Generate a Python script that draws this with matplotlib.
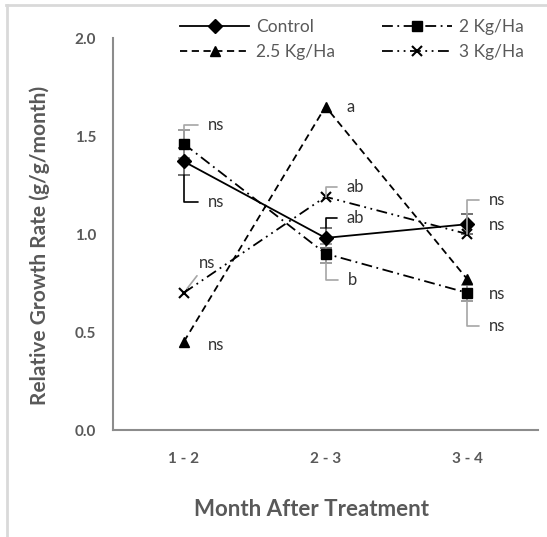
import matplotlib.pyplot as plt
from matplotlib.lines import Line2D

plt.rcParams['font.family'] = ['Lato', 'DejaVu Sans']

# Relative growth rate per treatment and month interval
months = ['1 - 2', '2 - 3', '3 - 4']
control = [1.37, 0.98, 1.05]
kg2 = [1.46, 0.90, 0.70]
kg25 = [0.45, 1.65, 0.77]
kg3 = [0.70, 1.19, 1.00]
control_err = [0.07, 0.05, 0.05]
kg2_err = [0.07, 0.05, 0.04]

control_lbl = ['ns', 'ab', 'ns']
kg2_lbl = ['ns', 'b', 'ns']
kg25_lbl = ['ns', 'a', 'ns']
kg3_lbl = ['ns', 'ab', 'ns']

txt_col = '#595959'
lbl_col = '#333333'
ax_col = '#8c8c8c'

fig = plt.figure(figsize=(5.47, 5.37), dpi=100)
ax = fig.add_axes([113 / 547, 1 - 430 / 537, 425 / 547, 392 / 537])
ax.patch.set_alpha(0)

x = [0.5, 1.5, 2.5]

# error bars
ax.errorbar(x, control, yerr=control_err, fmt='none', ecolor='#595959',
            elinewidth=1.2, capsize=4, capthick=1.2, zorder=2)
ax.errorbar(x, kg2, yerr=kg2_err, fmt='none', ecolor='#8c8c8c',
            elinewidth=1.2, capsize=4, capthick=1.2, zorder=2)

styles = {
    'Control': dict(ls='-', marker='D', ms=7.5),
    '2 Kg/Ha': dict(ls=(0, (6, 2.5, 1, 2.5)), marker='s', ms=7.5),
    '2.5 Kg/Ha': dict(ls=(0, (4, 2.5)), marker='^', ms=7.5),
    '3 Kg/Ha': dict(ls=(0, (6, 2.5, 1, 2.5, 1, 2.5)), marker='x', ms=7.5, mew=1.5),
}
series = {'Control': control, '2 Kg/Ha': kg2, '2.5 Kg/Ha': kg25, '3 Kg/Ha': kg3}
for name, vals in series.items():
    ax.plot(x, vals, color='black', lw=1.3, mfc='black', mec='black',
            zorder=3, **styles[name])


def label(i, anchor, text, off, leader=None, lcol='#a6a6a6'):
    props = None
    if leader == 'L':
        props = dict(arrowstyle='-', color=lcol, lw=1.2, shrinkA=5, shrinkB=0,
                     connectionstyle='angle,angleA=0,angleB=90,rad=0')
    elif leader == 'line':
        props = dict(arrowstyle='-', color=lcol, lw=1.2, shrinkA=2, shrinkB=4)
    ax.annotate(text, xy=(x[i], anchor), xytext=off, textcoords='offset pixels',
                ha='left', va='center', fontsize=12, color=lbl_col,
                arrowprops=props, zorder=4)


# 1 - 2
label(0, control[0] - control_err[0], control_lbl[0], (24, -27), 'L', 'black')
label(0, kg2[0] + kg2_err[0], kg2_lbl[0], (24, 5), 'L')
label(0, kg25[0], kg25_lbl[0], (24, -3))
label(0, kg3[0], kg3_lbl[0], (15, 30), 'line')
# 2 - 3
label(1, kg25[1], kg25_lbl[1], (21, 0))
label(1, kg3[1], kg3_lbl[1], (21, 10), 'L')
label(1, control[1] + control_err[1], control_lbl[1], (21, 10), 'L', 'black')
label(1, kg2[1] - kg2_err[1], kg2_lbl[1], (22, -17), 'L')
# 3 - 4
label(2, kg3[2], kg3_lbl[2], (22, 34), 'L')
label(2, control[2], control_lbl[2], (22, -1))
label(2, kg25[2], kg25_lbl[2], (22, -15))
label(2, kg2[2] - kg2_err[2], kg2_lbl[2], (22, -25), 'L')

ax.set_xlim(0, 3)
ax.set_ylim(0, 2.0)
ax.set_xticks(x)
ax.set_xticklabels(months)
ax.set_yticks([0, 0.5, 1.0, 1.5, 2.0])
ax.set_yticklabels(['0.0', '0.5', '1.0', '1.5', '2.0'])
ax.tick_params(length=0, labelsize=11, labelcolor=txt_col)
ax.tick_params(axis='x', pad=16)
ax.tick_params(axis='y', pad=12)
for t in ax.get_xticklabels() + ax.get_yticklabels():
    t.set_fontweight('bold')
for s in ['top', 'right']:
    ax.spines[s].set_visible(False)
for s in ['left', 'bottom']:
    ax.spines[s].set_color(ax_col)
    ax.spines[s].set_linewidth(1.5)

ax.set_xlabel('Month After Treatment', fontsize=16, fontweight='bold',
              color=txt_col)
ax.xaxis.set_label_coords((312 - 113) / 425, -(510 - 430) / 392)
ax.xaxis.label.set_va('center')
ax.set_ylabel('Relative Growth Rate (g/g/month)', fontsize=15, fontweight='bold',
              color=txt_col)
ax.yaxis.set_label_coords(-(113 - 40) / 425, (430 - 245) / 392)
ax.yaxis.label.set_va('center')

handles = [Line2D([], [], color='black', lw=1.3, mfc='black', mec='black',
                  **styles[n]) for n in ['Control', '2.5 Kg/Ha', '2 Kg/Ha', '3 Kg/Ha']]
fig.legend(handles, ['Control', '2.5 Kg/Ha', '2 Kg/Ha', '3 Kg/Ha'], ncol=2,
           loc='upper left', bbox_to_anchor=(180 / 547, 1 - 19 / 537),
           frameon=False, fontsize=12.5, labelcolor=txt_col, handlelength=4.0,
           handletextpad=0.4, columnspacing=2.7, labelspacing=0.5,
           borderpad=0, borderaxespad=0)

# light frame around the chart area
fig.add_artist(Line2D([6 / 547, 1], [1 - 5 / 537, 1 - 5 / 537],
                      color='#d9d9d9', lw=2, transform=fig.transFigure))
fig.add_artist(Line2D([7 / 547, 7 / 547], [0, 1 - 5 / 537],
                      color='#d9d9d9', lw=2, transform=fig.transFigure))

fig.savefig('out.png', dpi=100)
